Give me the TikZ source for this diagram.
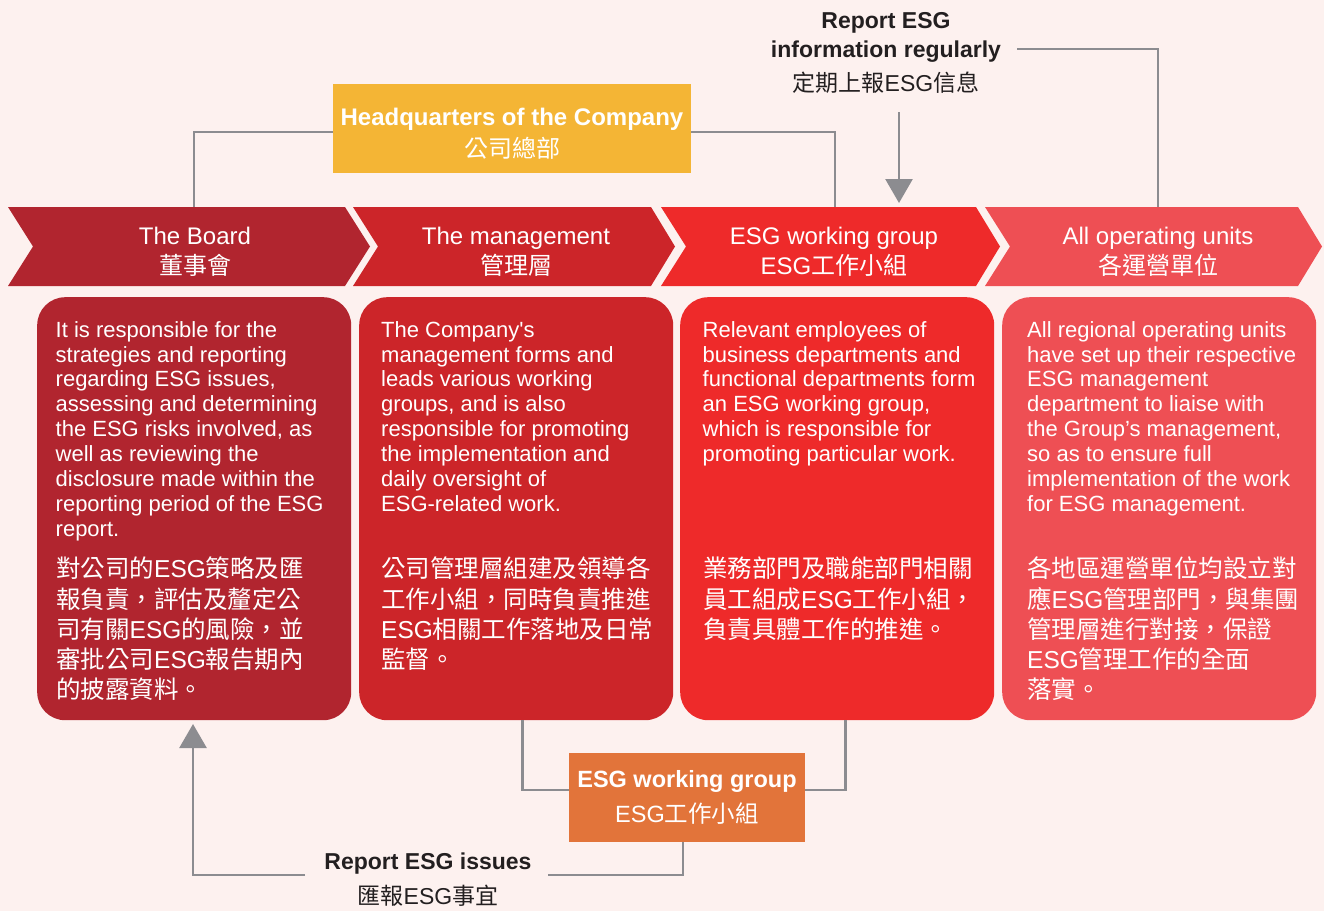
\documentclass[tikz,border=0pt]{standalone}
\usepackage{fontspec}
\setmainfont{Liberation Sans}
\newfontfamily\cjk{Noto Sans CJK TC}
\newcommand\ESGx{{\rmfamily ESG}}
\usetikzlibrary{arrows.meta}
\definecolor{bg}{HTML}{FDF1EF}
\definecolor{cA}{HTML}{B1252F}
\definecolor{cB}{HTML}{CC2529}
\definecolor{cC}{HTML}{EE2A2A}
\definecolor{cD}{HTML}{EE4F54}
\definecolor{hqc}{HTML}{F4B535}
\definecolor{orgc}{HTML}{E2743A}
\definecolor{connc}{HTML}{8C8C90}
\definecolor{inkc}{HTML}{231F20}
\begin{document}
\begin{tikzpicture}[x=1pt,y=-1pt,
 conn/.style={draw=connc,line width=2.6pt},
 arr/.style={draw=connc,line width=2.6pt,-{Triangle[width=27pt,length=24pt]}},
 chtext/.style={text=white,align=center,inner sep=0,font=\fontsize{24}{30}\selectfont},
 bodybox/.style={rounded corners=28pt,inner sep=0,anchor=north west,minimum width=314pt,minimum height=423pt},
 bodyen/.style={text=white,align=left,anchor=north west,inner sep=0,font=\fontsize{22}{24.9}\selectfont},
 bodycn/.style={text=white,align=left,anchor=north west,inner sep=0,font=\cjk\fontsize{24.5}{30.2}\selectfont},
 lbl/.style={text=inkc,align=center,inner sep=0,font=\bfseries\fontsize{23}{29}\selectfont},
]
\fill[bg] (0,0) rectangle (1324,911);
\useasboundingbox (0,0) rectangle (1324,911);

% chevrons
\fill[cA] (8,207) -- (345,207) -- (370,246.5) -- (345,286) -- (8,286) -- (33,246.5) -- cycle;
\fill[cB] (353,207) -- (651,207) -- (675,246.5) -- (651,286) -- (353,286) -- (378,246.5) -- cycle;
\fill[cC] (661,207) -- (976,207) -- (1000,246.5) -- (976,286) -- (661,286) -- (686,246.5) -- cycle;
\fill[cD] (985,207) -- (1298,207) -- (1322,246.5) -- (1298,286) -- (985,286) -- (1010,246.5) -- cycle;

\node[chtext] (ch1) at (195,251.5) {The Board\\{\cjk 董事會}};
\node[chtext] (ch2) at (516,251.5) {The management\\{\cjk 管理層}};
\node[chtext] (ch3) at (834,251.5) {ESG working group\\{\cjk \ESGx 工作小組}};
\node[chtext] (ch4) at (1158,251.5) {All operating units\\{\cjk 各運營單位}};

% HQ
\node[fill=hqc,minimum width=358pt,minimum height=89pt,inner sep=0] (hq) at (512,128.5) {};
\node[text=white,align=center,inner sep=0,font=\bfseries\fontsize{24}{32}\selectfont] (hqt) at (512,134) {Headquarters of the Company\\{\mdseries\cjk 公司總部}};

\coordinate (t1) at (194,207);
\coordinate (t3) at (835,207);
\coordinate (t4) at (1158,207);
\draw[conn] ([yshift=-3.5pt]hq.west) -| (t1);
\draw[conn] ([yshift=-3.5pt]hq.east) -| (t3);

% top label
\node[lbl] (toplbl) at (886,53) {Report ESG\\information regularly\\[5.5pt]{\mdseries\cjk 定期上報\ESGx 信息}};
\coordinate (c3) at (1017,49);
\draw[conn] (c3) -| (t4);
\coordinate (a2s) at (899,112);
\coordinate (a2e) at (899,203);
\draw[arr] (a2s) -- (a2e);

% body boxes
\node[bodybox,fill=cA] (b1) at (37,297) {};
\node[bodybox,fill=cB] (b2) at (359,297) {};
\node[bodybox,fill=cC] (b3) at (680,297) {};
\node[bodybox,fill=cD] (b4) at (1002,297) {};

\node[bodyen] (e1) at (55.5,321) {It is responsible for the\\strategies and reporting\\regarding ESG issues,\\assessing and determining\\the ESG risks involved, as\\well as reviewing the\\disclosure made within the\\reporting period of the ESG\\report.};
\node[bodycn] (z1) at (56,557) {對公司的\ESGx 策略及匯\\報負責，評估及釐定公\\司有關\ESGx 的風險，並\\審批公司\ESGx 報告期內\\的披露資料。};

\node[bodyen] (e2) at (381,321) {The Company\textquotesingle s\\management forms and\\leads various working\\groups, and is also\\responsible for promoting\\the implementation and\\daily oversight of\\ESG-related work.};
\node[bodycn] (z2) at (381,557) {公司管理層組建及領導各\\工作小組，同時負責推進\\\ESGx 相關工作落地及日常\\監督。};

\node[bodyen] (e3) at (702.5,321) {Relevant employees of\\business departments and\\functional departments form\\an ESG working group,\\which is responsible for\\promoting particular work.};
\node[bodycn] (z3) at (703,557) {業務部門及職能部門相關\\員工組成\ESGx 工作小組，\\負責具體工作的推進。};

\node[bodyen] (e4) at (1027,321) {All regional operating units\\have set up their respective\\ESG management\\department to liaise with\\the Group’s management,\\so as to ensure full\\implementation of the work\\for ESG management.};
\node[bodycn] (z4) at (1027,557) {各地區運營單位均設立對\\應\ESGx 管理部門，與集團\\管理層進行對接，保證\\\ESGx 管理工作的全面\\落實。};

% bottom working group
\node[fill=orgc,minimum width=236pt,minimum height=89pt,inner sep=0,text=white,align=center,font=\bfseries\fontsize{23.5}{35}\selectfont] (wg2) at (687,797.5) {ESG working group\\{\mdseries\cjk \ESGx 工作小組}};
\draw[conn] ([xshift=6.5pt]b2.south) |- ([yshift=7.5pt]wg2.west);
\draw[conn] ([xshift=8.5pt]b3.south) |- ([yshift=7.5pt]wg2.east);

\node[lbl] (botlbl) at (428,880) {Report ESG issues\\[6pt]{\mdseries\cjk 匯報\ESGx 事宜}};
\coordinate (c1) at (305,875);
\coordinate (c2) at (548,875);
\coordinate (a1) at (193,724);
\draw[conn] ([xshift=-4pt]wg2.south) |- (c2);
\draw[arr] (c1) -| (a1);
\end{tikzpicture}
\end{document}
